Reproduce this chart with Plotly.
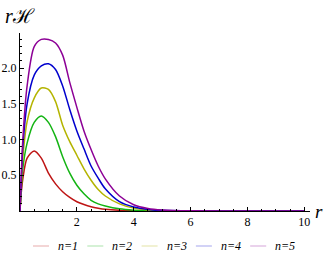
import plotly.graph_objects as go

r = [0, 0.05, 0.1, 0.25, 0.5, 0.75, 1.0, 1.25, 1.5, 1.75, 2.0, 2.25, 2.5, 2.75, 3.0, 3.5, 4.0, 4.5, 5.0, 6.0, 8.0, 10.0]
n1 = [0, 0.28, 0.45, 0.74, 0.84, 0.74, 0.53, 0.38, 0.27, 0.19, 0.13, 0.09, 0.06, 0.04, 0.025, 0.01, 0.004, 0.002, 0.001, 0, 0, 0]
n2 = [0, 0.35, 0.60, 0.95, 1.24, 1.33, 1.24, 1.04, 0.76, 0.53, 0.36, 0.24, 0.15, 0.10, 0.07, 0.03, 0.012, 0.005, 0.002, 0, 0, 0]
n3 = [0, 0.42, 0.75, 1.25, 1.58, 1.72, 1.70, 1.53, 1.20, 0.97, 0.78, 0.59, 0.43, 0.30, 0.21, 0.10, 0.04, 0.015, 0.005, 0, 0, 0]
n4 = [0, 0.50, 0.90, 1.50, 1.90, 2.03, 2.06, 1.98, 1.75, 1.42, 1.12, 0.87, 0.63, 0.46, 0.31, 0.13, 0.055, 0.022, 0.009, 0.001, 0, 0]
n5 = [0, 0.55, 1.00, 1.75, 2.30, 2.40, 2.40, 2.35, 2.18, 1.80, 1.45, 1.12, 0.86, 0.63, 0.45, 0.21, 0.088, 0.035, 0.014, 0.002, 0, 0]
series = [n1, n2, n3, n4, n5]
names = ["n=1", "n=2", "n=3", "n=4", "n=5"]
colors = ["rgb(190,20,20)", "rgb(20,180,20)", "rgb(180,180,0)", "rgb(0,0,205)", "rgb(140,0,150)"]
xticks = [2, 4, 6, 8, 10]
yticks = [0.5, 1.0, 1.5, 2.0]

W, H = 327, 260
L, R, T, B = 20, 17, 33, 49
pw, ph = W - L - R, H - T - B

fig = go.Figure()
for ys, c in zip(series, colors):
    fig.add_trace(go.Scatter(x=r, y=ys, mode="lines", line=dict(color=c, width=1.5, shape="spline", smoothing=0.8),
                             showlegend=False, hoverinfo="skip", cliponaxis=False))

serif = "Liberation Serif, Times New Roman, serif"
fig.update_layout(
    width=W, height=H, margin=dict(l=L, r=R, t=T, b=B),
    paper_bgcolor="white", plot_bgcolor="white",
    xaxis=dict(range=[0, 10.2], automargin=False, showgrid=False, zeroline=False, showline=True, linecolor="black", linewidth=1,
               tickvals=xticks, ticktext=[str(v) for v in xticks], ticks="inside", ticklen=4, tickcolor="black",
               tickfont=dict(family=serif, size=12, color="black"),
               minor=dict(dtick=0.5, ticks="inside", ticklen=2, tickcolor="black")),
    yaxis=dict(range=[0, 2.49], automargin=False, showgrid=False, zeroline=False, showline=True, linecolor="black", linewidth=1,
               tickvals=yticks, ticktext=["0.5", "1.0", "1.5", "2.0"], ticks="inside", ticklen=4, tickcolor="black",
               tickfont=dict(family=serif, size=12, color="black"),
               minor=dict(dtick=0.1, ticks="inside", ticklen=2, tickcolor="black")),
)

def px_x(p):
    return (p - L) / pw

def px_y(p):
    return (H - B - p) / ph

annotations = [
    dict(text="<i>r</i>ℋ", x=px_x(3), y=px_y(16), xref="paper", yref="paper", xanchor="left", yanchor="middle",
         showarrow=False, font=dict(family=serif, size=20, color="black")),
    dict(text="<i>r</i>", x=px_x(319), y=px_y(212), xref="paper", yref="paper", xanchor="center", yanchor="middle",
         showarrow=False, font=dict(family=serif, size=19, color="black")),
]
shapes = []
leg_y = 246
for i, (nm, c) in enumerate(zip(names, colors)):
    x0 = 33 + i * 54.3
    shapes.append(dict(type="line", xref="paper", yref="paper", x0=px_x(x0), x1=px_x(x0 + 16),
                       y0=px_y(leg_y), y1=px_y(leg_y), line=dict(color=c, width=1), opacity=0.35))
    annotations.append(dict(text="<i>" + nm + "</i>", x=px_x(x0 + 23), y=px_y(leg_y), xref="paper", yref="paper",
                            xanchor="left", yanchor="middle", showarrow=False,
                            font=dict(family=serif, size=12, color="black")))
fig.update_layout(annotations=annotations, shapes=shapes)
fig.write_html("out.html", config={"displayModeBar": False, "staticPlot": True},
               post_script="document.body.style.margin='0';document.body.style.overflow='hidden';")
